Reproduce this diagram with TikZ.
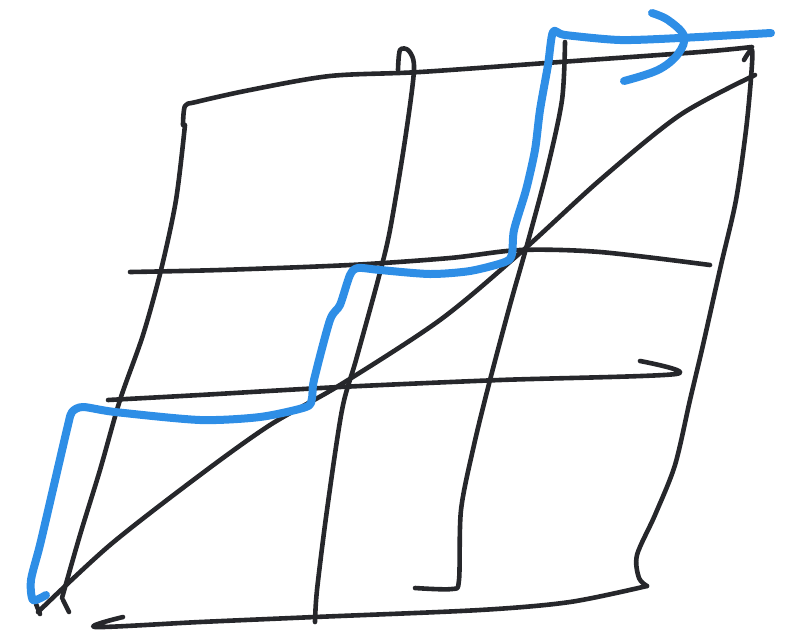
\documentclass[tikz,border=0pt]{standalone}
\definecolor{ink}{HTML}{26272B}
\definecolor{pen}{HTML}{2E8EE6}
\begin{document}
\begin{tikzpicture}[x=1pt,y=-1pt,
  blk/.style={draw=ink,line width=4.6pt,line cap=round,line join=round},
  blu/.style={draw=pen,line width=8pt,line cap=round,line join=round}]
\useasboundingbox (0,0) rectangle (806,638);
% top line with left hook
\draw[blk] plot[smooth,tension=0.5] coordinates {(183,125) (185,106) (196,102) (250,90) (330,76) (420,72) (560,62) (700,52) (752,47)};
% right vertical
\draw[blk] plot[smooth,tension=0.5] coordinates {(744,60) (752,50) (751,78) (746,130) (736,200) (721,265) (703,345) (690,400) (675,465) (655,515) (637,555) (639,578) (647,586)};
% left vertical
\draw[blk] plot[smooth,tension=0.5] coordinates {(185,125) (176,200) (161,270) (143,335) (120,400) (100,470) (80,535) (62,598)};
% second vertical with top hook
\draw[blk] plot[smooth,tension=0.5] coordinates {(398,70) (400,50) (409,51) (414,70) (405,140) (390,230) (378,280) (356,360) (342,410) (327,510) (317,590) (315,622)};
% third vertical with bottom hook
\draw[blk] plot[smooth,tension=0.5] coordinates {(565,42) (562,100) (547,170) (527,245) (510,305) (490,380) (474,445) (461,510) (459,580) (452,589) (415,588)};
% horizontal 2
\draw[blk] plot[smooth,tension=0.5] coordinates {(130,272) (220,270) (350,265) (450,258) (520,250) (600,252) (710,265)};
% horizontal 3 with right hook
\draw[blk] plot[smooth,tension=0.5] coordinates {(108,400) (200,395) (340,387) (500,380) (676,374) (640,361)};
% bottom line with left spur
\draw[blk] plot[smooth,tension=0.5] coordinates {(123,617) (95,627) (200,622) (315,617) (480,610) (570,602) (647,586)};
% diagonal
\draw[blk] plot[smooth,tension=0.5] coordinates {(38,612) (110,545) (200,475) (270,425) (340,385) (440,320) (520,253) (600,180) (680,115) (755,75)};
% little ticks at bottom left
\draw[blk] (36,604) -- (40,614);
\draw[blk] (63,600) -- (69,612);
% blue staircase
\draw[blu] plot[smooth,tension=0.45] coordinates {(46,595) (33,600) (31,580) (40,545) (54,485) (68,425) (72,412) (83,407) (115,412) (200,420) (260,417) (306,407) (312,398) (314,380) (330,320) (340,305) (350,275) (358,268) (380,270) (430,274) (470,271) (505,262) (512,254) (514,230) (526,190) (535,150) (540,110) (548,65) (553,32) (565,35) (620,40) (680,38) (771,33)};
% blue arrowhead
\draw[blu] plot[smooth,tension=0.6] coordinates {(652,13) (668,20) (684,36) (678,54) (658,70) (624,81)};
\end{tikzpicture}
\end{document}
